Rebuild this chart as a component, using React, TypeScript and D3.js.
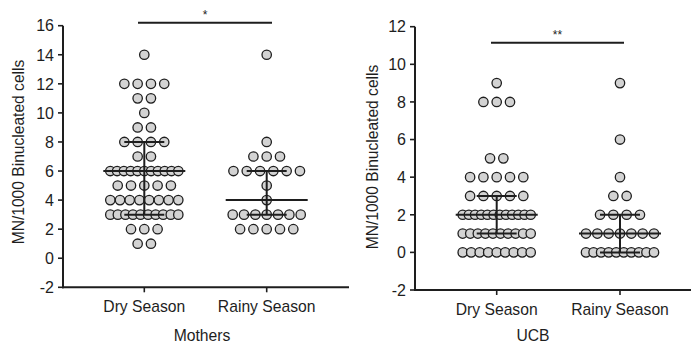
import React from "react";
import * as d3 from "d3";

// ---------- data ----------
const groups = ["Dry Season", "Rainy Season"];

const mothersDry = [
  14,
  12, 12, 12, 12,
  11, 11,
  10,
  9, 9,
  8, 8, 8, 8,
  7, 7,
  6, 6, 6, 6, 6, 6, 6, 6, 6, 6, 6,
  5, 5, 5, 5, 5,
  4, 4, 4, 4, 4, 4, 4, 4,
  3, 3, 3, 3, 3, 3, 3, 3, 3, 3,
  2, 2, 2,
  1, 1,
];
const mothersRainy = [
  14,
  8,
  7, 7, 7,
  6, 6, 6, 6, 6, 6,
  5,
  4,
  3, 3, 3, 3, 3, 3, 3,
  2, 2, 2, 2, 2,
];
const ucbDry = [
  9,
  8, 8, 8,
  5, 5,
  4, 4, 4, 4, 4,
  3, 3, 3, 3, 3,
  2, 2, 2, 2, 2, 2, 2, 2, 2, 2, 2, 2,
  1, 1, 1, 1, 1, 1, 1, 1, 1, 1,
  0, 0, 0, 0, 0, 0, 0, 0, 0,
];
const ucbRainy = [
  9,
  6,
  4,
  3, 3,
  2, 2, 2, 2,
  1, 1, 1, 1, 1, 1, 1,
  0, 0, 0, 0, 0, 0, 0, 0, 0, 0,
];

// summary statistics (median, interquartile range)
const mothersMedian = [6, 4];
const mothersQ1 = [3, 3];
const mothersQ3 = [8, 6];
const ucbMedian = [2, 1];
const ucbQ1 = [1, 0];
const ucbQ3 = [3, 2];

const mothersTicks = [-2, 0, 2, 4, 6, 8, 10, 12, 14, 16];
const ucbTicks = [-2, 0, 2, 4, 6, 8, 10, 12];

const yTitle = "MN/1000 Binucleated cells";

// ---------- styling ----------
const FONT = "'Liberation Sans', Arial, sans-serif";
const INK = "#1e1e1e";
const FILL = "#d3d3d3";
const R = 4.7;

function layoutRow(values: number[]) {
  const byVal = d3.group(values, (v) => v);
  const pts: { v: number; off: number }[] = [];
  byVal.forEach((arr, v) => {
    const n = arr.length;
    const sp = n > 1 ? Math.min(13.3, 68 / (n - 1)) : 0;
    arr.forEach((_, i) => pts.push({ v, off: (i - (n - 1) / 2) * sp }));
  });
  return pts;
}

type PanelProps = {
  axisX: number;
  axisRight: number;
  yTop: number;
  yBottom: number;
  domain: [number, number];
  ticks: number[];
  cats: number[];
  series: number[][];
  med: number[];
  q1: number[];
  q3: number[];
  sigY: number;
  sigX: [number, number];
  sigText: string;
  title: string;
  titleX: number;
  yTitleX: number;
  yTitleY: number;
};

function Panel(p: PanelProps) {
  const y = d3.scaleLinear().domain(p.domain).range([p.yBottom, p.yTop]);
  const x = d3.scalePoint<string>().domain(groups).range([p.cats[0], p.cats[1]]);
  return (
    <g>
      {p.series.map((vals, gi) =>
        layoutRow(vals).map((pt, i) => (
          <circle
            key={`${gi}-${i}`}
            cx={(x(groups[gi]) as number) + pt.off}
            cy={y(pt.v)}
            r={R}
            fill={FILL}
            stroke={INK}
            strokeWidth={1.3}
          />
        ))
      )}
      {groups.map((g, gi) => {
        const cx = x(g) as number;
        return (
          <g key={g} stroke={INK} strokeWidth={2}>
            <line x1={cx - 41} x2={cx + 41} y1={y(p.med[gi])} y2={y(p.med[gi])} />
            <line x1={cx} x2={cx} y1={y(p.q1[gi])} y2={y(p.q3[gi])} />
            <line x1={cx - 20} x2={cx + 20} y1={y(p.q1[gi])} y2={y(p.q1[gi])} />
            <line x1={cx - 20} x2={cx + 20} y1={y(p.q3[gi])} y2={y(p.q3[gi])} />
          </g>
        );
      })}
      <line x1={p.axisX} x2={p.axisX} y1={p.yTop} y2={p.yBottom + 1} stroke={INK} strokeWidth={2} />
      <line x1={p.axisX - 1} x2={p.axisRight} y1={p.yBottom} y2={p.yBottom} stroke={INK} strokeWidth={2} />
      {p.ticks.map((t) => (
        <g key={t}>
          <line x1={p.axisX - 5} x2={p.axisX} y1={y(t)} y2={y(t)} stroke={INK} strokeWidth={1.6} />
          <text
            x={p.axisX - 9}
            y={y(t)}
            dy="0.36em"
            textAnchor="end"
            fontSize={16}
            fontFamily={FONT}
            fill={INK}
          >
            {t}
          </text>
        </g>
      ))}
      {groups.map((g) => (
        <g key={g}>
          <line x1={x(g)} x2={x(g)} y1={p.yBottom} y2={p.yBottom + 5} stroke={INK} strokeWidth={1.6} />
          <text
            x={x(g)}
            y={p.yBottom + 25}
            textAnchor="middle"
            fontSize={15.7}
            fontFamily={FONT}
            fill={INK}
          >
            {g}
          </text>
        </g>
      ))}
      <text
        x={p.titleX}
        y={341}
        textAnchor="middle"
        fontSize={15.7}
        fontFamily={FONT}
        fill={INK}
      >
        {p.title}
      </text>
      <text
        transform={`translate(${p.yTitleX},${p.yTitleY}) rotate(-90)`}
        textAnchor="middle"
        dy="0.35em"
        fontSize={15.6}
        fontFamily={FONT}
        fill={INK}
      >
        {yTitle}
      </text>
      <line x1={p.sigX[0]} x2={p.sigX[1]} y1={p.sigY} y2={p.sigY} stroke={INK} strokeWidth={2} />
      <text
        x={(p.sigX[0] + p.sigX[1]) / 2}
        y={p.sigY - 4}
        textAnchor="middle"
        fontSize={12}
        fontFamily={FONT}
        fill={INK}
      >
        {p.sigText}
      </text>
    </g>
  );
}

export default function App() {
  return (
    <svg
      width={691}
      height={343}
      style={{ position: "absolute", left: 0, top: 0, background: "#fff" }}
    >
      <Panel
        axisX={63}
        axisRight={349}
        yTop={25.7}
        yBottom={287.3}
        domain={[-2, 16]}
        ticks={mothersTicks}
        cats={[144.3, 266.7]}
        series={[mothersDry, mothersRainy]}
        med={mothersMedian}
        q1={mothersQ1}
        q3={mothersQ3}
        sigY={22.7}
        sigX={[138, 272]}
        sigText="*"
        title="Mothers"
        titleX={202}
        yTitleX={19}
        yTitleY={152}
      />
      <Panel
        axisX={415}
        axisRight={691}
        yTop={26.7}
        yBottom={290}
        domain={[-2, 12]}
        ticks={ucbTicks}
        cats={[496.7, 620]}
        series={[ucbDry, ucbRainy]}
        med={ucbMedian}
        q1={ucbQ1}
        q3={ucbQ3}
        sigY={42.7}
        sigX={[491, 624]}
        sigText="**"
        title="UCB"
        titleX={533}
        yTitleX={373}
        yTitleY={157}
      />
    </svg>
  );
}
